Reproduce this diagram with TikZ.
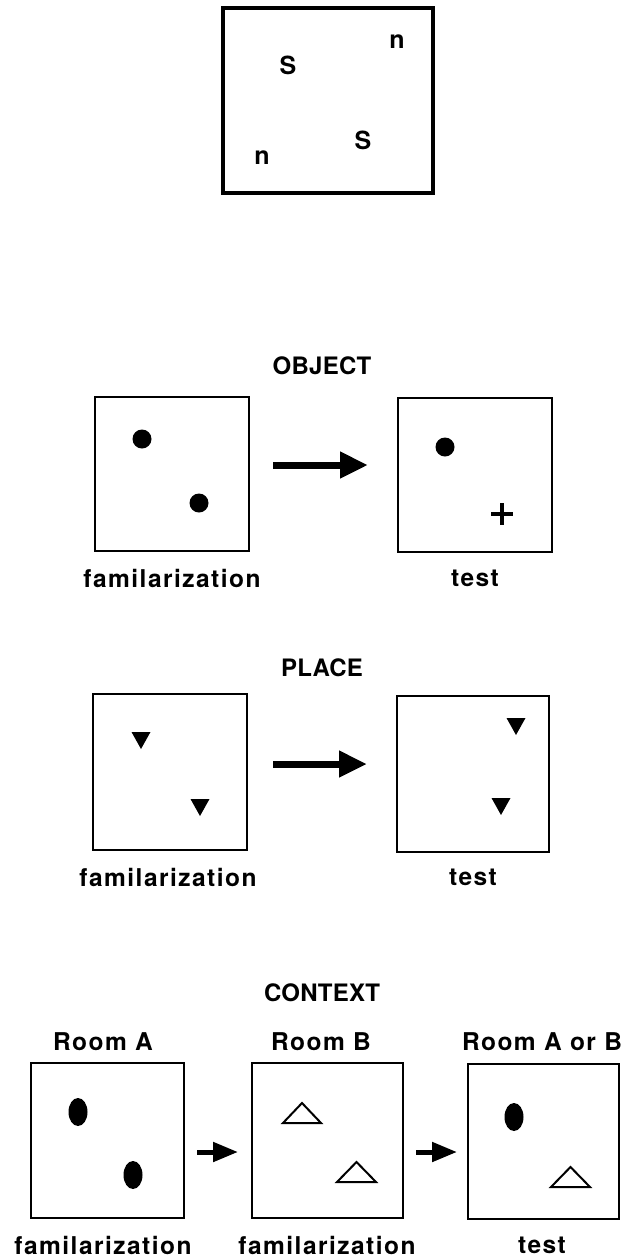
\documentclass[tikz,border=0pt]{standalone}
\usepackage{fontspec}
\setmainfont{TeX Gyre Heros}
\newfontfamily\lblfont[LetterSpace=6]{TeX Gyre Heros}
\newfontfamily\ttlfont[LetterSpace=1]{TeX Gyre Heros}
\usetikzlibrary{arrows.meta,shapes.geometric}
\tikzset{
  thinbox/.style={draw, line width=1.6pt, inner sep=0pt},
  topbox/.style={draw, line width=3.2pt, inner sep=0pt},
  lbl/.style={font=\lblfont\bfseries\fontsize{24.5}{26}\selectfont, inner sep=0pt},
  ttl/.style={font=\ttlfont\bfseries\fontsize{24}{26}\selectfont, inner sep=0pt},
  letter/.style={font=\bfseries\fontsize{25}{27}\selectfont, inner sep=0pt},
  bigarrow/.style={line width=7pt, -{Triangle[length=28pt,width=25pt]}},
  smallarrow/.style={line width=5pt, -{Triangle[length=25pt,width=19pt]}},
  dot/.style={circle, fill=black, minimum size=19pt, inner sep=0pt},
  oval/.style={ellipse, fill=black, minimum width=19pt, minimum height=28pt, inner sep=0pt},
  tridown/.style={fill=black},
  triopen/.style={draw, line width=2pt, line join=miter},
}
\begin{document}
\begin{tikzpicture}[x=1pt,y=-1pt]
\useasboundingbox (0,0) rectangle (634,1258);
% top box
\node[topbox, minimum width=210pt, minimum height=185pt] (top) at (328,100.5) {};
\node[letter] (s1) at (288,65) {S};
\node[letter] (n1) at (397,42) {n};
\node[letter] (s2) at (363,140) {S};
\node[letter] (n2) at (262,158) {n};

% OBJECT
\node[ttl] (objt) at (322,366) {OBJECT};
\node[thinbox, minimum width=154pt, minimum height=154pt] (ob1) at (172,474) {};
\node[thinbox, minimum width=154pt, minimum height=154pt] (ob2) at (475,475) {};
\node[dot] (od1) at (142,439) {};
\node[dot] (od2) at (199,503) {};
\node[dot] (od3) at (445,447) {};
\node[inner sep=0pt] (plus) at (502,514) {};
\draw[line width=3.5pt] (plus.center) +(-11,0) -- +(11,0);
\draw[line width=3.5pt] (plus.center) +(0,-11) -- +(0,11);
\coordinate (oa1) at (273,465);
\coordinate (oa2) at (368,465);
\draw[bigarrow] (oa1) -- (oa2);
\node[lbl] (obl1) at (172,578) {familarization};
\node[lbl] (obl2) at (475,578) {test};

% PLACE
\node[ttl] (plt) at (322,668) {PLACE};
\node[thinbox, minimum width=154pt, minimum height=156pt] (pl1) at (170,772) {};
\node[thinbox, minimum width=152pt, minimum height=156pt] (pl2) at (473,774) {};
\foreach \cx/\ty [count=\i] in {141/732, 200/799, 516/718, 501/798}{
  \coordinate (pt\i) at (\cx,\ty);
  \fill[tridown] (pt\i) ++(-9.5,0) -- ++(19,0) -- ++(-9.5,17) -- cycle;
}
\coordinate (pa1) at (273,764);
\coordinate (pa2) at (367,764);
\draw[bigarrow] (pa1) -- (pa2);
\node[lbl] (pll1) at (168,877) {familarization};
\node[lbl] (pll2) at (473,877) {test};

% CONTEXT
\node[ttl] (ctt) at (322,993) {CONTEXT};
\node[lbl] (ra) at (103,1042) {Room A};
\node[lbl] (rb) at (321,1042) {Room B};
\node[lbl] (rab) at (542,1042) {Room A or B};
\node[thinbox, minimum width=153pt, minimum height=155pt] (c1) at (107.5,1140.5) {};
\node[thinbox, minimum width=151pt, minimum height=155pt] (c2) at (327.5,1140.5) {};
\node[thinbox, minimum width=151pt, minimum height=155pt] (c3) at (543.5,1141.5) {};
\node[oval] (e1) at (78,1112) {};
\node[oval] (e2) at (133,1175) {};
\node[oval] (e3) at (514,1117) {};
\foreach \l/\r/\t/\b [count=\i] in {283/321/1103/1123, 337/376/1162/1182, 551/590/1167/1187}{
  \coordinate (tl\i) at (\l,\b);
  \coordinate (tr\i) at (\r,\b);
  \coordinate (tt\i) at ({(\l+\r)/2},\t);
  \draw[triopen] (tl\i) -- (tr\i) -- (tt\i) -- cycle;
}
\coordinate (ca1) at (197,1152);
\coordinate (ca2) at (238,1152);
\coordinate (ca3) at (416,1152);
\coordinate (ca4) at (457,1152);
\draw[smallarrow] (ca1) -- (ca2);
\draw[smallarrow] (ca3) -- (ca4);
\node[lbl] (cl1) at (103,1245) {familarization};
\node[lbl] (cl2) at (327,1245) {familarization};
\node[lbl] (cl3) at (542,1245) {test};
\end{tikzpicture}
\end{document}
